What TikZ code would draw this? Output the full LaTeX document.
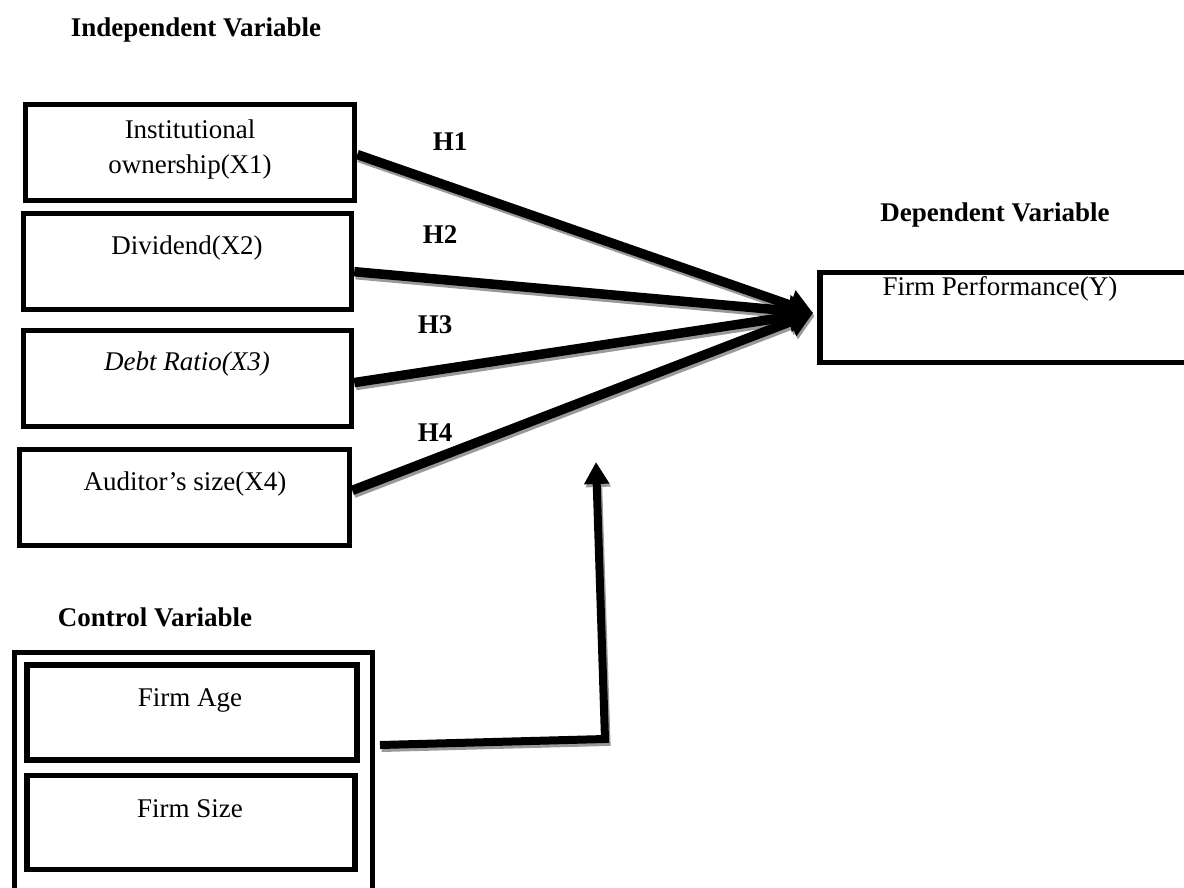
\documentclass[tikz,border=0pt]{standalone}
\usepackage{fontspec}
\setmainfont{Liberation Serif}
\usetikzlibrary{arrows.meta,calc}
\begin{document}
\begin{tikzpicture}[x=1pt,y=-1pt,
  every node/.style={font=\fontsize{27}{35}\selectfont},
  box/.style={draw, line width=5.5pt, inner sep=0pt, rectangle},
  txt/.style={inner sep=0pt, align=center},
  head/.style={inner sep=0pt, font=\fontsize{27}{35}\selectfont\bfseries},
  hyp/.style={line width=9.5pt, -{Triangle[length=24pt,width=30pt]}},
  shadowcopy/.style={draw=black!40, transform canvas={xshift=1.5pt,yshift=-3pt}},
  link/.style={line width=8pt, line join=miter}
]
\useasboundingbox (0,0) rectangle (1184,887);
\begin{scope}
\clip (0,0) rectangle (1184,887);
% headings
\node[head] (hi) at (196,30) {Independent Variable};
\node[head] (hd) at (995,215) {Dependent Variable};
\node[head] (hc) at (155,617) {Control Variable};
% independent boxes
\node[box, minimum width=329pt, minimum height=96pt] (b1) at (190,152.5) {};
\node[box, minimum width=328pt, minimum height=96pt] (b2) at (187.5,261.5) {};
\node[box, minimum width=328pt, minimum height=96pt] (b3) at (187.5,378.5) {};
\node[box, minimum width=330pt, minimum height=96pt] (b4) at (184.5,497.5) {};
\node[txt] (t1) at (190,150) {Institutional\\ownership(X1)};
\node[txt] (t2) at (187,248) {Dividend(X2)};
\node[txt] (t3) at (187,364) {\itshape Debt Ratio(X3)};
\node[txt] (t4) at (185,484) {Auditor’s size(X4)};
% dependent box
\node[box, minimum width=380pt, minimum height=90pt] (y) at (1010,317.5) {};
\node[txt] (ty) at (1000,289) {Firm Performance(Y)};
% control boxes
\node[box, line width=5pt, minimum width=358pt, minimum height=240pt] (ctrl) at (193.5,772) {};
\node[box, minimum width=330pt, minimum height=95pt] (c1) at (192,712.5) {};
\node[box, minimum width=328pt, minimum height=94pt] (c2) at (191,822.5) {};
\node[txt] (tc1) at (190,700) {Firm Age};
\node[txt] (tc2) at (190,809) {Firm Size};
% hypothesis labels
\node[head] (h1) at (450,142) {H1};
\node[head] (h2) at (440,235) {H2};
\node[head] (h3) at (435,325) {H3};
\node[head] (h4) at (435,433) {H4};
% connector points
\coordinate (tip) at (813,313);
\coordinate (s1) at ($(b1.north east)!0.52!(b1.south east)$);
\coordinate (s2) at ($(b2.north east)!0.60!(b2.south east)$);
\coordinate (s3) at ($(b3.north east)!0.54!(b3.south east)$);
\coordinate (s4) at ($(b4.north east)!0.43!(b4.south east)$);
\coordinate (cs) at (380,745);
\coordinate (cc) at (605,739);
\coordinate (ct) at (596,462);
% shadows
\foreach \s in {s1,s2,s3,s4}{
  \draw[hyp, shadowcopy] (\s) -- (tip);
}
\draw[link, shadowcopy, -{Triangle[length=22pt,width=24pt]}] (cs) -- (cc) -- (ct);
% arrows
\foreach \s in {s1,s2,s3,s4}{
  \draw[hyp] (\s) -- (tip);
}
\draw[link, -{Triangle[length=22pt,width=24pt]}] (cs) -- (cc) -- (ct);
\end{scope}
\end{tikzpicture}
\end{document}
